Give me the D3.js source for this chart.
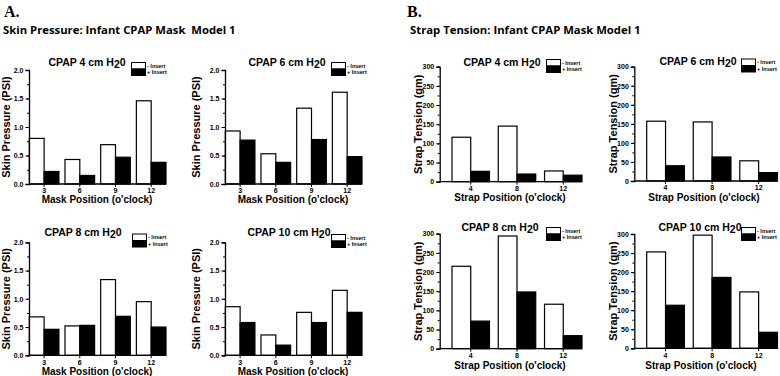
<!DOCTYPE html>
<html>
<head>
<meta charset="utf-8">
<script src="https://cdn.jsdelivr.net/npm/d3@7"></script>
<style>
  body { margin: 0; background: #fff; }
  text { font-family: Arial, "Liberation Sans", sans-serif; fill: #000; }
</style>
</head>
<body>
<div id="chart"></div>
<script>
// Infant CPAP mask: skin pressure (A) and strap tension (B), with / without insert

const cpapLevels = [4, 6, 8, 10];

// A. skin pressure (PSI) by mask position
const maskPositions = ["3", "6", "9", "12"];
const pressureNoInsert = [
  [0.80, 0.43, 0.69, 1.46],
  [0.93, 0.53, 1.33, 1.61],
  [0.68, 0.52, 1.34, 0.95],
  [0.86, 0.36, 0.76, 1.15]
];
const pressureInsert = [
  [0.22, 0.15, 0.47, 0.38],
  [0.77, 0.38, 0.78, 0.48],
  [0.46, 0.53, 0.69, 0.50],
  [0.58, 0.18, 0.58, 0.76]
];
const pressureTicks = [0, 0.5, 1.0, 1.5, 2.0];

// B. strap tension (gm) by strap position
const strapPositions = ["4", "8", "12"];
const tensionNoInsert = [
  [116, 145, 28],
  [157, 155, 53],
  [215, 294, 116],
  [253, 297, 148]
];
const tensionInsert = [
  [27, 20, 17],
  [40, 63, 22],
  [72, 148, 34],
  [113, 186, 42]
];
const tensionTicks = [0, 50, 100, 150, 200, 250, 300];

const seriesNames = ["- Insert", "+ Insert"];

const svg = d3.select("#chart")
  .append("svg")
  .attr("width", 780)
  .attr("height", 376);

// panel letters and headers
svg.append("text").attr("x", 4).attr("y", 17)
  .style("font-family", "'Liberation Serif', 'Times New Roman', serif")
  .style("font-weight", "bold").style("font-size", "16px").text("A.");
svg.append("text").attr("x", 407).attr("y", 17)
  .style("font-family", "'Liberation Serif', 'Times New Roman', serif")
  .style("font-weight", "bold").style("font-size", "16px").text("B.");
svg.append("text").attr("x", 3).attr("y", 34)
  .style("font-family", "'Open Sans', sans-serif")
  .style("font-weight", "bold").style("font-size", "11.3px")
  .style("white-space", "pre")
  .text("Skin Pressure: Infant CPAP Mask  Model 1");
svg.append("text").attr("x", 410).attr("y", 34)
  .style("font-family", "'Open Sans', sans-serif")
  .style("font-weight", "bold").style("font-size", "11.3px")
  .text("Strap Tension: Infant CPAP Mask Model 1");

// frame geometry for each small chart
const framesA = [
  {ax: 29, bx0: 29.3, bx1: 166, top: 70, bottom: 184, lx: 6, tx: 87, ty: 66, gx: 131.5, gy: 62.5, xl: 97, xly: 203},
  {ax: 225, bx0: 225.3, bx1: 362, top: 70, bottom: 184, lx: 196, tx: 287, ty: 66, gx: 331.5, gy: 62.5, xl: 293, xly: 203},
  {ax: 29, bx0: 29.3, bx1: 166, top: 242.3, bottom: 355.3, lx: 6, tx: 83, ty: 236, gx: 132.5, gy: 234, xl: 97, xly: 375},
  {ax: 225, bx0: 225.3, bx1: 362, top: 242.3, bottom: 355.3, lx: 196, tx: 289, ty: 236, gx: 331.5, gy: 234.5, xl: 293, xly: 375}
];
const framesB = [
  {ax: 439.7, bx0: 452, bx1: 582, top: 66.7, bottom: 181.7, lx: 418.5, tx: 502, ty: 66, gx: 546.5, gy: 59.5, xl: 510, xly: 201},
  {ax: 634.3, bx0: 646.7, bx1: 777.5, top: 66.7, bottom: 181, lx: 613, tx: 698, ty: 65, gx: 741.5, gy: 59, xl: 704, xly: 201},
  {ax: 439.7, bx0: 452, bx1: 582, top: 233.7, bottom: 348.7, lx: 418.5, tx: 500, ty: 231, gx: 546.5, gy: 227.5, xl: 510, xly: 369},
  {ax: 634.3, bx0: 646.7, bx1: 777.5, top: 234, bottom: 348.3, lx: 613, tx: 700, ty: 231, gx: 741.5, gy: 227.5, xl: 701, xly: 369}
];

function drawChart(f, level, cats, noIns, ins, ticks, yMax, minorStep, fmt, yLabel, xLabel, pad) {
  const g = svg.append("g");

  const x = d3.scaleBand().domain(cats).range([f.bx0, f.bx1]).paddingInner(pad).paddingOuter(0);
  const xs = d3.scaleBand().domain([0, 1]).range([0, x.bandwidth()]);
  const y = d3.scaleLinear().domain([0, yMax]).range([f.bottom, f.top]);

  const rows = cats.map((c, i) => ({cat: c, vals: [noIns[i], ins[i]]}));

  // bars
  g.selectAll("g.grp")
    .data(rows)
    .enter().append("g")
    .attr("transform", d => `translate(${x(d.cat)},0)`)
    .selectAll("rect")
    .data(d => d.vals)
    .enter().append("rect")
    .attr("x", (d, i) => xs(i))
    .attr("y", d => y(d))
    .attr("width", xs.bandwidth())
    .attr("height", d => y(0) - y(d))
    .attr("fill", (d, i) => i === 0 ? "#fff" : "#000")
    .attr("stroke", "#000")
    .attr("stroke-width", 1.2);

  // y axis with minor ticks
  const minor = d3.range(0, yMax + 1e-9, minorStep);
  g.append("g")
    .attr("transform", `translate(${f.ax},0)`)
    .call(d3.axisLeft(y).tickValues(minor).tickSize(2).tickFormat(""))
    .call(a => a.select(".domain").remove());
  const yAx = g.append("g")
    .attr("transform", `translate(${f.ax},0)`)
    .call(d3.axisLeft(y).tickValues(ticks).tickSize(3.5).tickPadding(2).tickFormat(fmt));
  yAx.select(".domain").attr("stroke-width", 1.3);
  yAx.selectAll("text").style("font-size", "7px").style("font-weight", "bold");

  // x axis
  const xAx = g.append("g")
    .attr("transform", `translate(0,${f.bottom})`)
    .call(d3.axisBottom(x).tickSize(3).tickPadding(1.5).tickSizeOuter(0));
  xAx.select(".domain").attr("d", `M${f.ax},0H${f.bx1}`).attr("stroke-width", 1.3);
  xAx.selectAll("text").style("font-size", "7px").style("font-weight", "bold");

  // titles
  const t = g.append("text")
    .attr("x", f.tx).attr("y", f.ty)
    .attr("text-anchor", "middle")
    .style("font-size", "10.5px").style("font-weight", "bold");
  t.append("tspan").text(`CPAP ${level} cm H`);
  t.append("tspan").attr("dy", 2).text("2");
  t.append("tspan").attr("dy", -2).text("0");

  g.append("text")
    .attr("transform", `translate(${f.lx},${(f.top + f.bottom) / 2}) rotate(-90)`)
    .attr("text-anchor", "middle")
    .attr("dy", "0.35em")
    .style("font-size", "11px").style("font-weight", "bold")
    .text(yLabel);

  g.append("text")
    .attr("x", f.xl).attr("y", f.xly)
    .attr("text-anchor", "middle")
    .style("font-size", "10px").style("font-weight", "bold")
    .text(xLabel);

  // legend
  const lg = g.append("g").attr("transform", `translate(${f.gx},${f.gy})`);
  lg.selectAll("rect")
    .data(seriesNames)
    .enter().append("rect")
    .attr("x", 0)
    .attr("y", (d, i) => i * 6.5)
    .attr("width", 14)
    .attr("height", 6.5)
    .attr("fill", (d, i) => i === 0 ? "#fff" : "#000")
    .attr("stroke", "#000")
    .attr("stroke-width", 1);
  lg.selectAll("text")
    .data(seriesNames)
    .enter().append("text")
    .attr("x", 15.5)
    .attr("y", (d, i) => 5 + i * 6.5)
    .style("font-size", "5.5px").style("font-weight", "bold")
    .text(d => d);
}

cpapLevels.forEach((lvl, i) => {
  drawChart(framesA[i], lvl, maskPositions, pressureNoInsert[i], pressureInsert[i],
    pressureTicks, 2.0, 0.25, d3.format(".1f"), "Skin Pressure (PSI)", "Mask Position (o'clock)", 0.17);
  drawChart(framesB[i], lvl, strapPositions, tensionNoInsert[i], tensionInsert[i],
    tensionTicks, 300, 25, d3.format("d"), "Strap Tension (gm)", "Strap Position (o'clock)", 0.19);
});
</script>
</body>
</html>
